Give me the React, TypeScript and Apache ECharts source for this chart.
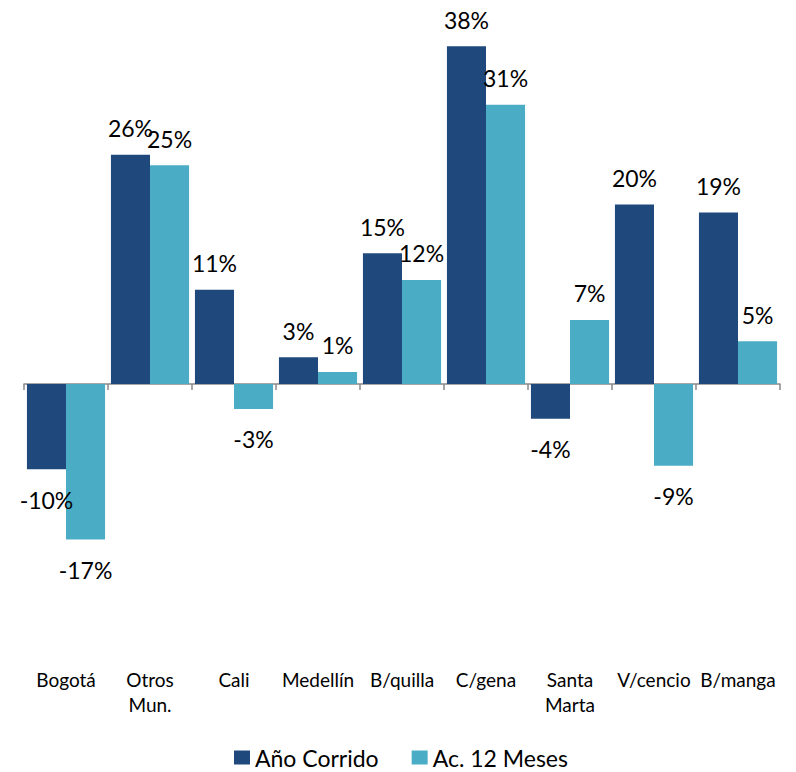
import React, { useEffect, useRef } from "react";
import * as echarts from "echarts";

const categories = ["Bogotá", "Otros\nMun.", "Cali", "Medellín", "B/quilla", "C/gena", "Santa\nMarta", "V/cencio", "B/manga"];
const anoCorrido = [-9.6, 25.8, 10.6, 3.0, 14.7, 38.0, -3.9, 20.2, 19.3];
const ac12Meses = [-17.5, 24.6, -2.8, 1.35, 11.7, 31.4, 7.2, -9.2, 4.8];
const seriesNames = ["Año Corrido", "Ac. 12 Meses"];
const colors = ["#1F497D", "#4BACC6"];

const FONT = "Lato, 'Open Sans', sans-serif";

function toItems(values: number[]) {
  return values.map((v) => ({
    value: v,
    label: {
      position: v < 0 ? "bottom" : "top",
      distance: v < 0 ? 19 : 15,
    },
  }));
}

export default function App() {
  const ref = useRef<HTMLDivElement>(null);
  useEffect(() => {
    document.body.style.margin = "0";
    if (!ref.current) return;
    const chart = echarts.init(ref.current, null, { renderer: "svg" });
    const label = {
      show: true,
      formatter: (p: any) => `${Math.round(p.value)}%`,
      fontFamily: FONT,
      fontSize: 23,
      color: "#000",
    };
    chart.setOption({
      animation: false,
      grid: { left: 24, right: 16, top: 28.4, bottom: 121.3, containLabel: false },
      legend: {
        top: 741,
        left: 229,
        padding: 5,
        itemWidth: 16,
        itemHeight: 14,
        itemGap: 33,
        icon: "rect",
        textStyle: { fontFamily: FONT, fontSize: 23, color: "#000" },
        data: seriesNames,
      },
      xAxis: [
        {
          type: "category",
          data: categories,
          position: "bottom",
          axisLine: { show: false, onZero: false },
          axisTick: { show: false },
          axisLabel: {
            fontFamily: FONT,
            fontSize: 19,
            color: "#000",
            lineHeight: 25,
            margin: 16,
            interval: 0,
          },
        },
        {
          type: "category",
          data: categories,
          position: "bottom",
          axisLine: { show: true, onZero: true, lineStyle: { color: "#898989", width: 1.5 } },
          axisTick: { show: true, inside: false, length: 6, lineStyle: { color: "#898989", width: 1.5 } },
          axisLabel: { show: false },
        },
      ],
      yAxis: {
        type: "value",
        min: -30,
        max: 40,
        show: false,
        splitLine: { show: false },
      },
      series: [
        {
          name: seriesNames[0],
          type: "bar",
          data: toItems(anoCorrido),
          itemStyle: { color: colors[0] },
          barGap: "0%",
          barCategoryGap: "7%",
          label,
        },
        {
          name: seriesNames[1],
          type: "bar",
          data: toItems(ac12Meses),
          itemStyle: { color: colors[1] },
          barGap: "0%",
          barCategoryGap: "7%",
          label,
        },
      ],
    });
    return () => chart.dispose();
  }, []);
  return <div ref={ref} style={{ width: 796, height: 772 }} />;
}
